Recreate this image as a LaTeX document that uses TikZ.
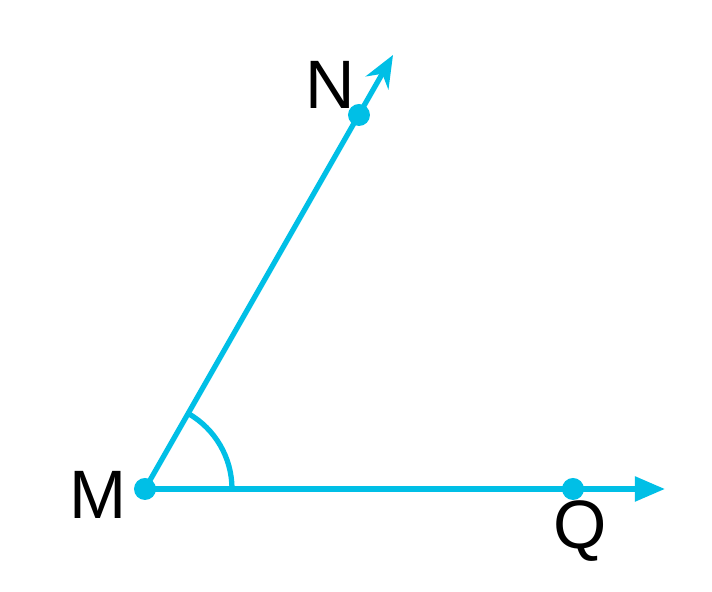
\documentclass[tikz,border=0pt]{standalone}
\usepackage{fontspec}
\setmainfont{Liberation Sans}
\usetikzlibrary{arrows.meta,calc}
\definecolor{RayCyan}{HTML}{00BFE6}

\begin{document}
\begin{tikzpicture}[
    font=\fontsize{19.5pt}{21pt}\selectfont,
    ray/.style={draw=RayCyan, line width=1.5pt},
    dot/.style={circle, fill=RayCyan, inner sep=0pt, minimum size=0.22cm},
    ptlabel/.style={text=black, inner sep=0pt}
]

  \useasboundingbox (0, 0) rectangle (7.12, 5.92);

  % Pontos
  \coordinate (M) at (1.45, 1.03);
  \coordinate (N) at (3.59, 4.77);
  \coordinate (Q) at (5.73, 1.03);
  \coordinate (Ntip) at (3.93, 5.37);
  \coordinate (Qtip) at (6.65, 1.03);

  % Semirretas
  \draw[ray, -{Stealth[length=0.32cm, width=0.26cm]}] (M) -- (Ntip);
  \draw[ray, -{Triangle[length=0.30cm, width=0.24cm]}] (M) -- (Qtip);

  % Angulo
  \draw[ray] ($(M)+(0:0.87)$) arc (0:60.3:0.87);

  \node[dot] (m) at (M) {};
  \node[dot] (n) at (N) {};
  \node[dot] (q) at (Q) {};

  % Rotulos
  \node[ptlabel] (lm) at (0.98, 0.97) {M};
  \node[ptlabel] (ln) at (3.30, 5.07) {N};
  \node[ptlabel] (lq) at (5.80, 0.61) {Q};

\end{tikzpicture}
\end{document}
